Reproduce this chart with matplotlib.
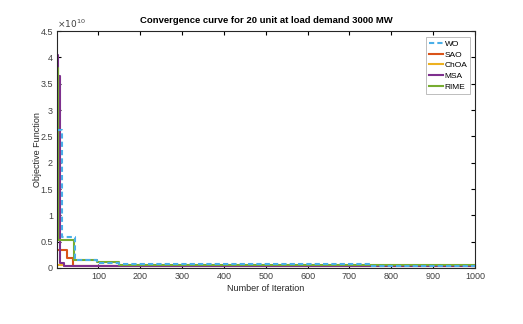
import matplotlib
matplotlib.use("Agg")
import matplotlib.pyplot as plt
import numpy as np

plt.rcParams['font.family'] = ['Liberation Sans', 'DejaVu Sans']

# step breakpoints (iteration, objective value x1e10)
wo_it = [1, 14, 45, 96, 150, 750, 1000]
wo_val = [2.62, 0.58, 0.15, 0.10, 0.08, 0.04, 0.04]
sao_it = [1, 25, 39, 1000]
sao_val = [0.34, 0.18, 0.04, 0.04]
choa_it = [1, 17, 1000]
choa_val = [0.06, 0.04, 0.04]
msa_it = [1, 4, 9, 17, 1000]
msa_val = [4.05, 3.65, 0.10, 0.03, 0.03]
rime_it = [1, 3, 42, 96, 150, 1000]
rime_val = [3.80, 0.53, 0.16, 0.12, 0.05, 0.05]

names = ['WO', 'SAO', 'ChOA', 'MSA', 'RIME']
colors = ['#4aafe8', '#D95319', '#EDB120', '#7E2F8E', '#77AC30']
styles = ['--', '-', '-', '-', '-']
series = [(wo_it, wo_val), (sao_it, sao_val), (choa_it, choa_val),
          (msa_it, msa_val), (rime_it, rime_val)]

fig = plt.figure(figsize=(5.23, 3.24), dpi=100)
ax = fig.add_axes([0.109, 0.173, 0.799, 0.731])

order = [1, 2, 3, 4, 0]
lines = {}
for i in order:
    it, val = series[i]
    ln, = ax.plot(it, np.array(val) * 1e10, drawstyle='steps-post',
                  color=colors[i], linestyle=styles[i], lw=1.5,
                  label=names[i], dashes=(2.5, 1.5) if styles[i] == '--' else (None, None))
    lines[i] = ln

ax.set_xlim(1, 1000)
ax.set_ylim(0, 4.5e10)
ax.set_xticks(np.arange(100, 1001, 100))
ax.set_yticks(np.arange(0, 4.51e10, 0.5e10))
ax.set_yticklabels(['0', '0.5', '1', '1.5', '2', '2.5', '3', '3.5', '4', '4.5'])
ax.tick_params(direction='in', length=3, width=0.8, labelsize=6.5,
               labelcolor='#404040', top=True, right=True, pad=3)
for s in ax.spines.values():
    s.set_linewidth(0.8)
    s.set_color('#262626')

ax.text(0, 1.005, r'$\times 10^{10}$', transform=ax.transAxes, fontsize=6.5,
        color='#404040', ha='left', va='bottom')
ax.set_title('Convergence curve for 20 unit at load demand 3000 MW',
             fontsize=6.8, fontweight='bold', pad=6)
ax.set_xlabel('Number of Iteration', fontsize=6.5, color='#262626', labelpad=2)
ax.set_ylabel('Objective Function', fontsize=6.5, color='#262626', labelpad=-1)

leg = ax.legend([lines[i] for i in range(5)], names, loc='upper right',
                fontsize=6, frameon=True, fancybox=False, handlelength=1.7,
                handletextpad=0.15, borderpad=0.35, labelspacing=0.35,
                borderaxespad=0.3, bbox_to_anchor=(0.995, 0.985))
leg.get_frame().set_edgecolor('#a0a0a0')
leg.get_frame().set_linewidth(0.6)

fig.savefig('out.png', dpi=100)
